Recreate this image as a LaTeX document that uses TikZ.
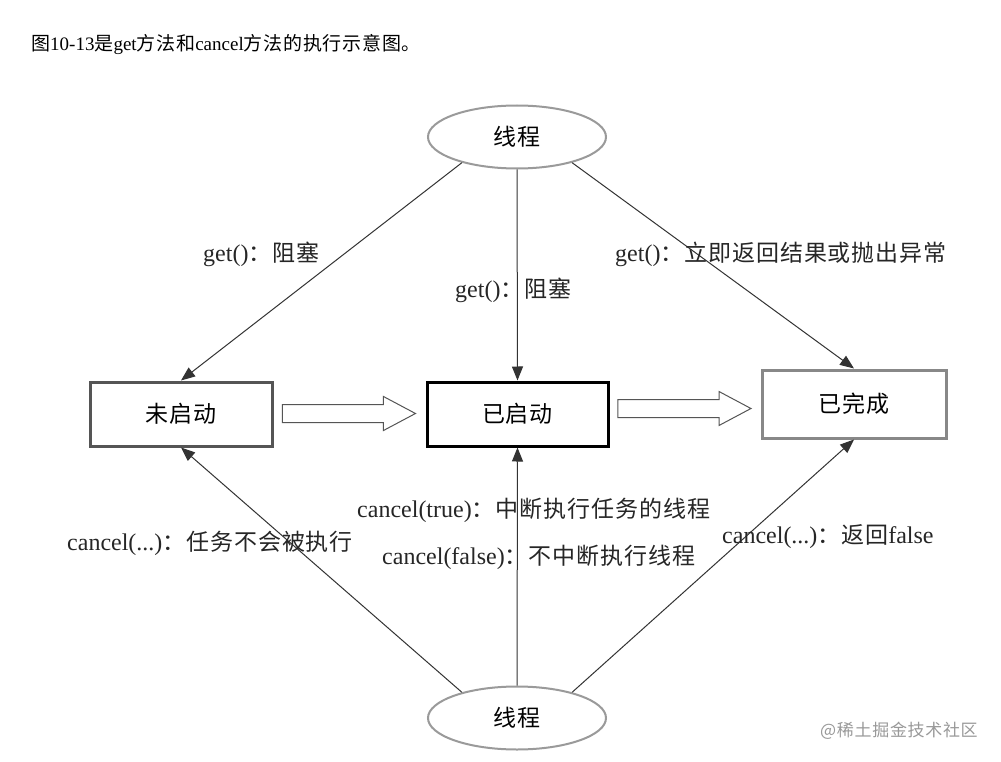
\documentclass[tikz,border=0pt]{standalone}
\usepackage{fontspec}
\setmainfont{Liberation Serif}
\newfontfamily\cjk[LetterSpace=4]{Noto Sans CJK SC}
\usetikzlibrary{arrows.meta,shapes.geometric,shapes.arrows}
\newcommand{\zh}[1]{{\cjk #1}}
\newcommand{\zl}[1]{{\cjk\fontsize{23}{26}\selectfont #1}}
\definecolor{boxA}{HTML}{555555}
\definecolor{boxC}{HTML}{888888}
\definecolor{ell}{HTML}{9A9A9A}
\definecolor{ln}{HTML}{333333}
\begin{document}
\begin{tikzpicture}[x=1pt,y=-1pt,
  lbl/.style={anchor=west,inner sep=0pt,font=\fontsize{24}{26}\selectfont,text=black!85},
  thread/.style={ellipse,draw=ell,line width=2pt,minimum width=178pt,minimum height=63pt,inner sep=0pt,font=\fontsize{23}{26}\selectfont},
  state/.style={rectangle,line width=3pt,inner sep=0pt,font=\fontsize{23}{26}\selectfont},
  conn/.style={draw=ln,line width=1pt,-{Triangle[length=14pt,width=11pt]}},
  hollow/.style={single arrow,draw=boxA,line width=1pt,inner sep=8.5pt,single arrow head extend=8pt,single arrow tip angle=56,minimum height=133pt,anchor=center}
]
\useasboundingbox (0,0) rectangle (1001,762);
\fill[white] (0,0) rectangle (1001,762);

\node[anchor=west,inner sep=0pt,font=\fontsize{19}{21}\selectfont] (title) at (31,44)
  {\zh{图}10-13\zh{是}get\zh{方法和}cancel\zh{方法的执行示意图。}};

\node[thread] (top) at (517,137) {\zh{线程}};
\node[thread] (bot) at (517,718) {\zh{线程}};

\node[state,draw=boxA,minimum width=182pt,minimum height=64pt] (b1) at (181,414) {\zh{未启动}};
\node[state,draw=black,minimum width=181pt,minimum height=64pt] (b2) at (517.5,414) {\zh{已启动}};
\node[state,draw=boxC,minimum width=184pt,minimum height=68pt] (b3) at (854,404) {\zh{已完成}};

\node[hollow] (h1) at (340.5,413.5) {};
\node[hollow] (h2) at (676,408.5) {};

\draw[conn] (top.205) -- (b1.north);
\draw[conn] (top.south) -- (b2.north);
\draw[conn] (top.-25) -- (b3.north);
\draw[conn] (bot.155) -- (b1.south);
\draw[conn] (bot.north) -- (b2.south);
\draw[conn] (bot.25) -- (b3.south);

\node[lbl] (l1) at (203,254) {get()\zl{：阻塞}};
\node[lbl] (l2) at (455,290) {get()\zl{：阻塞}};
\node[lbl] (l3) at (615,254) {get()\zl{：立即返回结果或抛出异常}};
\node[lbl] (l4) at (357,510) {cancel(true)\zl{：中断执行任务的线程}};
\node[lbl] (l5) at (382,557) {cancel(false)\zl{：不中断执行线程}};
\node[lbl] (l6) at (67,543) {cancel(...)\zl{：任务不会被执行}};
\node[lbl] (l7) at (722,537) {cancel(...)\zl{：返回}false};

\node[anchor=west,inner sep=0pt,text=black!40,font=\fontsize{17}{19}\selectfont] (wm) at (820,731) {\zh{@稀土掘金技术社区}};
\end{tikzpicture}
\end{document}
